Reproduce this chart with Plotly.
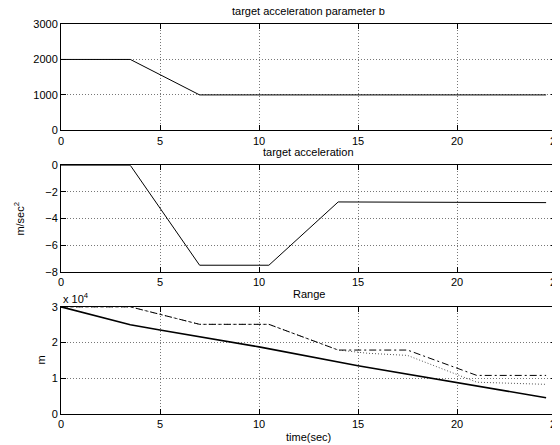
import plotly.graph_objects as go
from plotly.subplots import make_subplots

# ---- data ----
t_b = [0, 3.5, 7, 24.5]
b_param = [2000, 2000, 1000, 1000]

t_acc = [0, 3.5, 7, 10.5, 14, 24.5]
acc = [0, 0, -7.5, -7.5, -2.75, -2.8]

t_range = [0, 3.5, 5, 10, 15, 20, 24.5]
range_solid = [30000, 25000, 23500, 18800, 13500, 8700, 4550]

t_dd = [0, 3.5, 7, 10.5, 14, 17.5, 21, 24.5]
range_dashdot = [30000, 30000, 25100, 25100, 17900, 17900, 10800, 10800]

t_dot = [0, 3.5, 7, 10.5, 14, 15.5, 17.5, 21, 24.5]
range_dotted = [30000, 30000, 25100, 25100, 17900, 17000, 16400, 8900, 8300]

x_ticks = [0, 5, 10, 15, 20, 25]
b_ticks = [0, 1000, 2000, 3000]
acc_ticks = [0, -2, -4, -6, -8]
range_ticks = [0, 10000, 20000, 30000]
range_ticktext = ["0", "1", "2", "3"]

FONT = "Liberation Sans, Arial, Helvetica, sans-serif"

fig = make_subplots(rows=3, cols=1, shared_xaxes=False, vertical_spacing=0.09)

fig.add_trace(go.Scatter(x=t_b, y=b_param, mode="lines",
                         line=dict(color="black", width=1)), row=1, col=1)
fig.add_trace(go.Scatter(x=t_acc, y=acc, mode="lines",
                         line=dict(color="black", width=1)), row=2, col=1)
fig.add_trace(go.Scatter(x=t_dot, y=range_dotted, mode="lines",
                         line=dict(color="#555", width=1, dash="1px,2px")), row=3, col=1)
fig.add_trace(go.Scatter(x=t_dd, y=range_dashdot, mode="lines",
                         line=dict(color="black", width=1, dash="7px,3px,2px,3px")), row=3, col=1)
fig.add_trace(go.Scatter(x=t_range, y=range_solid, mode="lines",
                         line=dict(color="black", width=1.6)), row=3, col=1)

# page body has an 8px margin; target plot area in window px:
# left 61, right 556, top 23.5, bottom 414
OFF = 8
top_px, bot_px = 23.5, 414.0
span = bot_px - top_px
def dom(y_top, y_bot):
    return [(bot_px - y_bot) / span, (bot_px - y_top) / span]

doms = [dom(23.5, 130.0), dom(165.0, 271.7), dom(306.7, 414.0)]

axis_common = dict(
    showline=True, linecolor="black", linewidth=1, mirror="ticks",
    ticks="inside", ticklen=5, tickcolor="black", tickwidth=1,
    showgrid=True, gridcolor="#777", gridwidth=1, griddash="1px,2px",
    zeroline=False, tickfont=dict(family=FONT, size=11, color="black"),
    automargin=False, ticklabeloverflow="allow",
)

for i in range(3):
    fig.update_xaxes(range=[0, 25], tickvals=x_ticks, domain=[0, 1], row=i + 1, col=1, **axis_common)
    fig.update_yaxes(domain=doms[i], row=i + 1, col=1, **axis_common)

fig.update_yaxes(range=[0, 3000], tickvals=b_ticks, row=1, col=1)
fig.update_yaxes(range=[-8, 0], tickvals=acc_ticks, row=2, col=1)
fig.update_yaxes(range=[0, 30000], tickvals=range_ticks, ticktext=range_ticktext, row=3, col=1)

ann_font = dict(family=FONT, size=11, color="black")
anns = [
    dict(text="target acceleration parameter b", xref="x domain", yref="y domain",
         x=0.5, y=1, xanchor="center", yanchor="bottom", yshift=5, showarrow=False, font=ann_font),
    dict(text="target acceleration", xref="x2 domain", yref="y2 domain",
         x=0.5, y=1, xanchor="center", yanchor="bottom", yshift=5, showarrow=False, font=ann_font),
    dict(text="Range", xref="x3 domain", yref="y3 domain",
         x=0.5, y=1, xanchor="center", yanchor="bottom", yshift=5, showarrow=False, font=ann_font),
    dict(text="time(sec)", xref="x3 domain", yref="y3 domain",
         x=0.5, y=0, xanchor="center", yanchor="top", yshift=-15, showarrow=False, font=ann_font),
    dict(text="m/sec<sup>2</sup>", xref="x2 domain", yref="y2 domain",
         x=0, y=0.5, xanchor="center", yanchor="middle", xshift=-42, textangle=-90,
         showarrow=False, font=ann_font),
    dict(text="m", xref="x3 domain", yref="y3 domain",
         x=0, y=0.5, xanchor="center", yanchor="middle", xshift=-20, textangle=-90,
         showarrow=False, font=ann_font),
    dict(text="x 10<sup>4</sup>", xref="x3 domain", yref="y3 domain",
         x=0, y=1, xanchor="left", yanchor="bottom", yshift=0, showarrow=False, font=ann_font),
]
fig.update_layout(
    annotations=anns,
    width=560 - OFF, height=445 - OFF,
    margin=dict(l=61 - OFF, r=4, t=23.5 - OFF, b=31, pad=0, autoexpand=False),
    paper_bgcolor="white", plot_bgcolor="white",
    showlegend=False,
    font=dict(family=FONT, size=11, color="black"),
)

fig.write_html("out.html")
